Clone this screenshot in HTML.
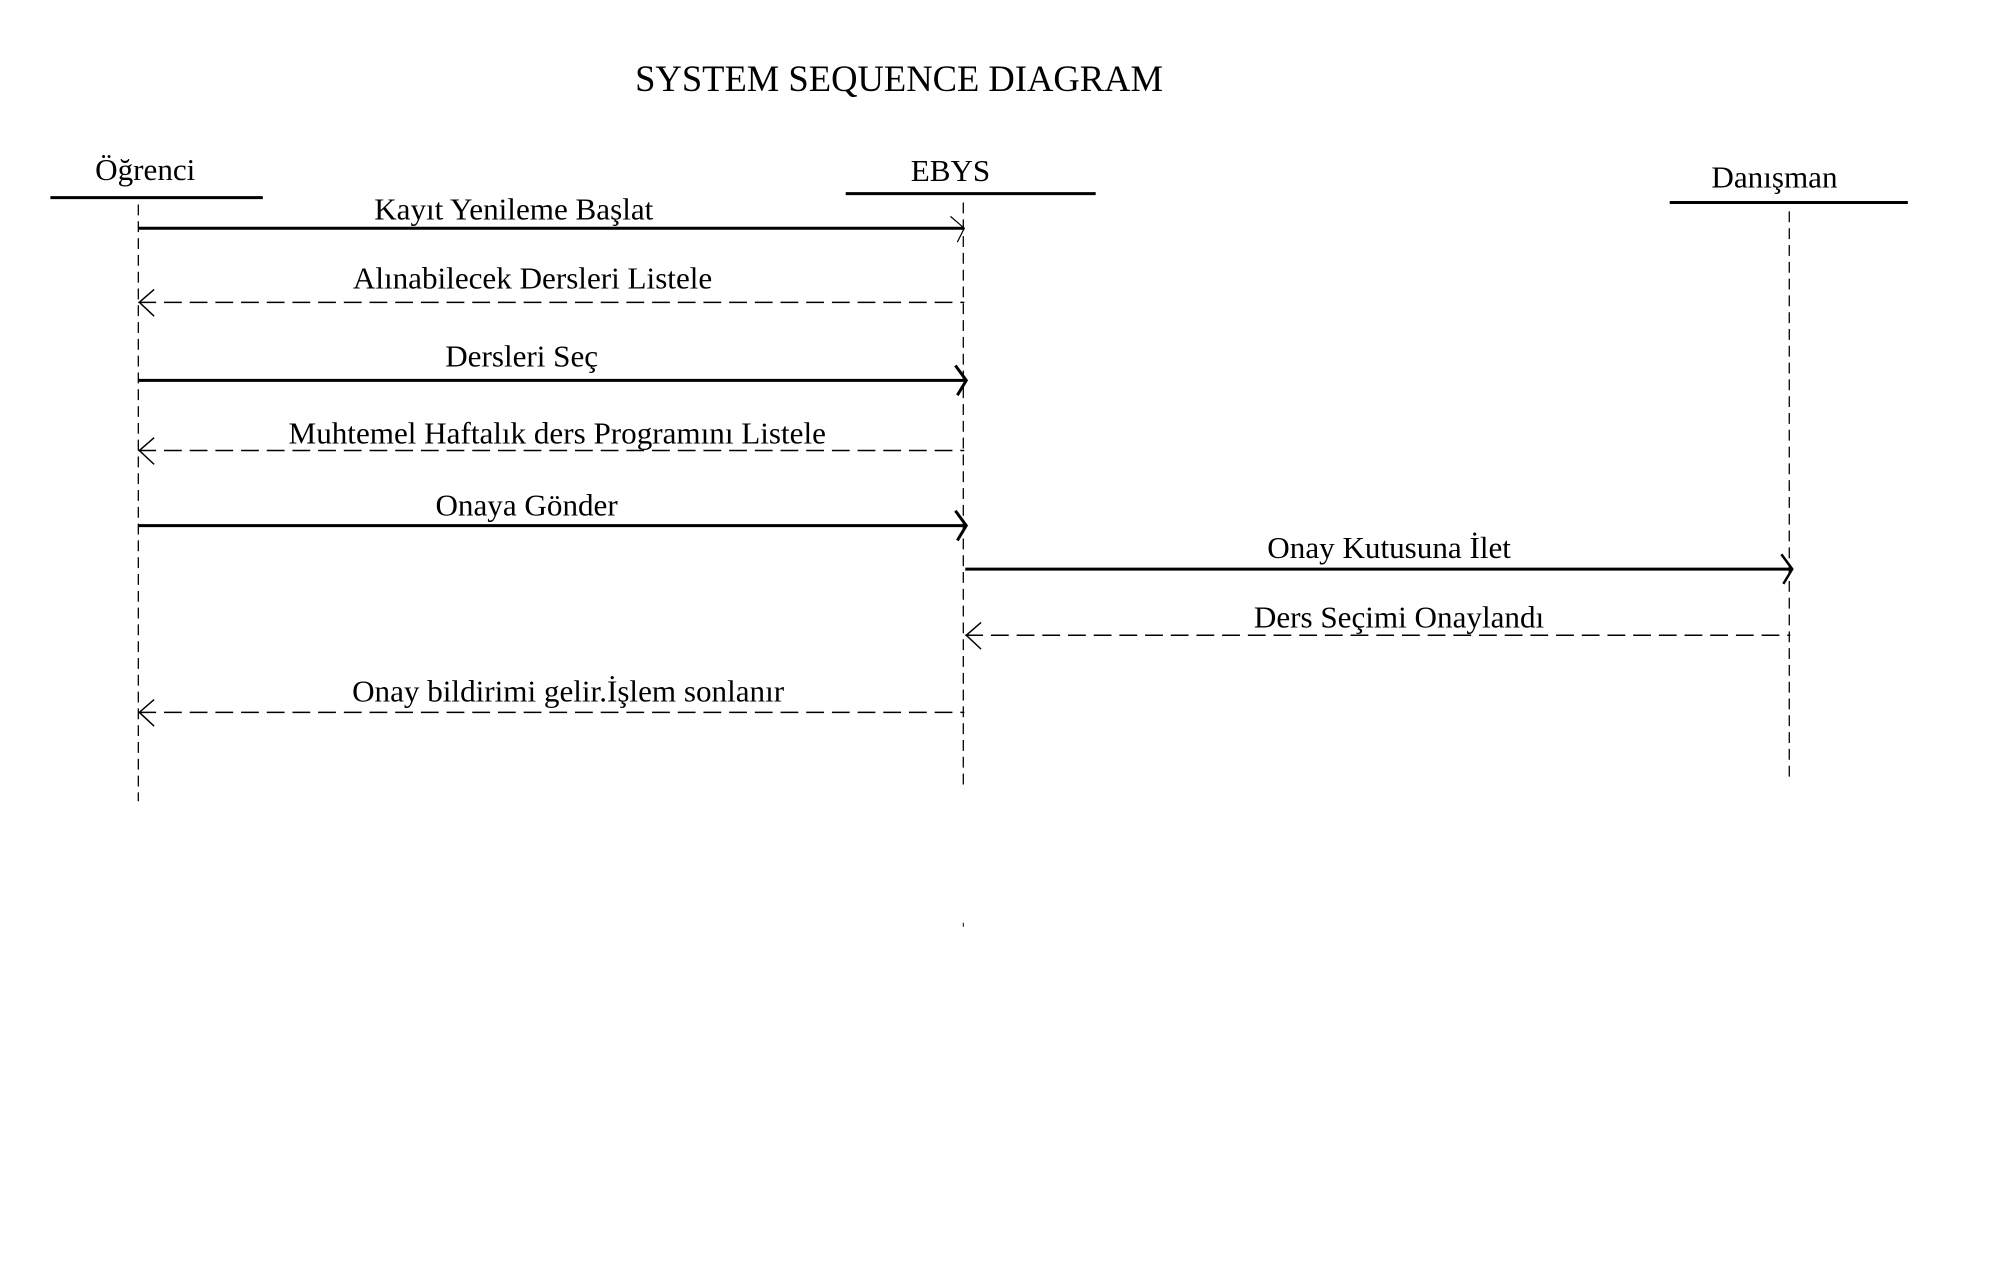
<!DOCTYPE html>
<html><head><meta charset="utf-8"><style>
html,body{margin:0;padding:0;background:#fff;width:2010px;height:1266px;overflow:hidden}
svg text{font-family:"Liberation Serif",serif;fill:#000}
</style></head><body>
<svg width="2010" height="1266" viewBox="0 0 2010 1266" xmlns="http://www.w3.org/2000/svg">
<g transform="scale(0.988)">
<text x="910" y="92" font-size="37" text-anchor="middle">SYSTEM SEQUENCE DIAGRAM</text>
<text x="147" y="182" font-size="31.5" text-anchor="middle">Öğrenci</text>
<text x="962" y="183" font-size="31.5" text-anchor="middle">EBYS</text>
<text x="1796" y="190" font-size="31.5" text-anchor="middle">Danışman</text>
<g stroke="#000" stroke-width="3">
<line x1="51" y1="200" x2="266" y2="200"/>
<line x1="856" y1="196" x2="1109" y2="196"/>
<line x1="1690" y1="205" x2="1931" y2="205"/>
</g>
<g stroke="#000" stroke-width="1.3" stroke-dasharray="11,6" fill="none">
<line x1="140" y1="207" x2="140" y2="811"/>
<line x1="975" y1="205" x2="975" y2="794"/>
<line x1="1811" y1="214" x2="1811" y2="791"/>
</g>
<line x1="975" y1="934" x2="975" y2="938" stroke="#000" stroke-width="1"/>
<g font-size="31.5" text-anchor="middle">
<text x="520" y="222">Kayıt Yenileme Başlat</text>
<text x="539" y="292">Alınabilecek Dersleri Listele</text>
<text x="528" y="371">Dersleri Seç</text>
<text x="564" y="449">Muhtemel Haftalık ders Programını Listele</text>
<text x="533" y="522">Onaya Gönder</text>
<text x="1406" y="565">Onay Kutusuna İlet</text>
<text x="1416" y="635">Ders Seçimi Onaylandı</text>
<text x="575" y="710">Onay bildirimi gelir.İşlem sonlanır</text>
</g>
<g stroke="#000" fill="none">
<line x1="140" y1="231" x2="976" y2="231" stroke-width="3"/>
<polyline points="962,219 976,231 969,245" stroke-width="1.2"/>
<line x1="140" y1="306" x2="976" y2="306" stroke-width="1.5" stroke-dasharray="18,8"/>
<polyline points="156,293 141,306 156,320" stroke-width="1.5"/>
<line x1="140" y1="385" x2="978" y2="385" stroke-width="3"/>
<polyline points="967,370 978,385 969,400" stroke-width="3"/>
<line x1="140" y1="456" x2="976" y2="456" stroke-width="1.5" stroke-dasharray="18,8"/>
<polyline points="156,443 141,456 156,470" stroke-width="1.5"/>
<line x1="140" y1="532" x2="978" y2="532" stroke-width="3"/>
<polyline points="967,517 978,532 969,547" stroke-width="3"/>
<line x1="977" y1="576" x2="1814" y2="576" stroke-width="3"/>
<polyline points="1803,561 1814,576 1805,591" stroke-width="2.5"/>
<line x1="977" y1="643" x2="1812" y2="643" stroke-width="1.5" stroke-dasharray="18,8"/>
<polyline points="993,630 978,643 993,657" stroke-width="1.5"/>
<line x1="140" y1="721" x2="976" y2="721" stroke-width="1.5" stroke-dasharray="18,8"/>
<polyline points="156,708 141,721 156,735" stroke-width="1.5"/>
</g>
</g>
</svg>
</body></html>
